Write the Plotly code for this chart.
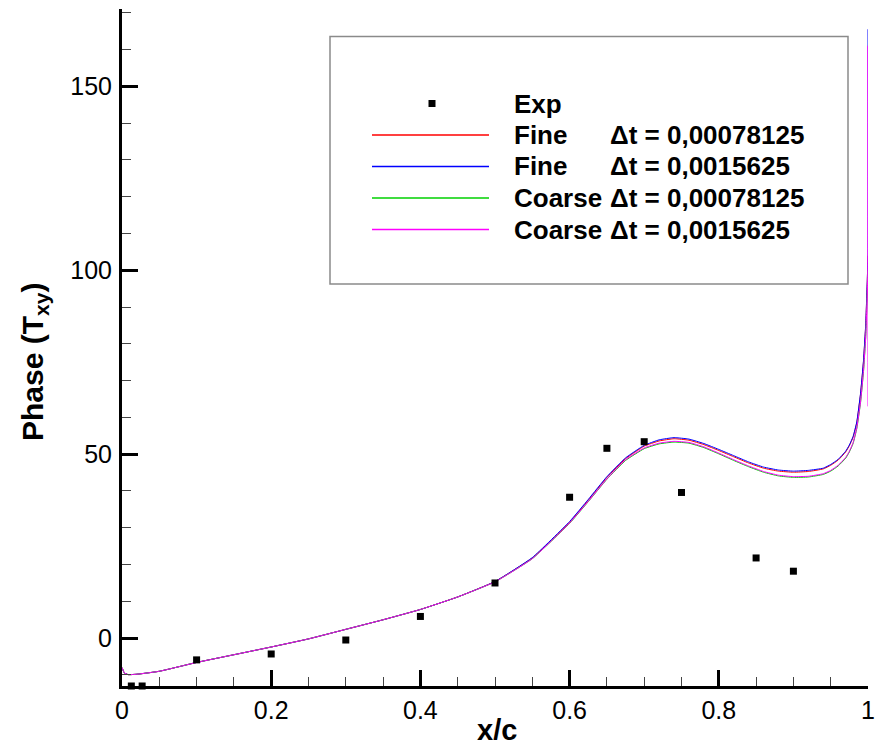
import plotly.graph_objects as go

# ---------------- data ----------------
exp_x = [0.0125, 0.027, 0.1, 0.2, 0.3, 0.4, 0.5, 0.6, 0.65, 0.7, 0.75, 0.85, 0.9]
exp_y = [-13.0, -13.0, -5.9, -4.3, -0.5, 5.9, 15.0, 38.3, 51.6, 53.4, 39.6, 21.8, 18.2]

x_sim = [0, 0.003, 0.008, 0.02, 0.05, 0.1, 0.15, 0.2, 0.25, 0.3, 0.35, 0.4, 0.45,
         0.5, 0.55, 0.6, 0.625, 0.65, 0.675, 0.7, 0.72, 0.74, 0.76, 0.78, 0.8,
         0.82, 0.84, 0.86, 0.88, 0.9, 0.92, 0.94, 0.95, 0.96, 0.97, 0.975, 0.98,
         0.985, 0.99, 0.994, 0.997, 0.999, 1.0]

fine_dt1 = [-8.0, -9.4, -9.9, -9.8, -9.0, -6.6, -4.5, -2.4, -0.2, 2.4, 5.0, 7.8, 11.2,
            15.4, 21.8, 31.5, 37.5, 43.7, 48.8, 52.2, 53.6, 54.2, 53.8, 52.6, 51.0,
            49.3, 47.6, 46.2, 45.4, 45.1, 45.3, 46.0, 47.0, 48.4, 50.6, 52.3, 54.6,
            58.6, 66.3, 75.3, 85.3, 96.8, 104.0]
fine_dt2 = [-8.0, -9.4, -9.9, -9.8, -9.0, -6.6, -4.5, -2.4, -0.2, 2.4, 5.0, 7.8, 11.2,
            15.4, 21.9, 31.7, 37.7, 43.9, 49.0, 52.4, 53.9, 54.5, 54.1, 52.9, 51.3,
            49.6, 47.9, 46.5, 45.7, 45.4, 45.6, 46.2, 47.2, 48.6, 50.8, 52.5, 54.8,
            58.8, 66.5, 75.5, 85.5, 97.0, 104.0]
coarse_dt1 = [-8.0, -9.4, -9.9, -9.8, -9.0, -6.6, -4.5, -2.4, -0.2, 2.4, 5.0, 7.8, 11.2,
              15.3, 21.6, 31.2, 37.1, 43.2, 48.3, 51.5, 52.8, 53.3, 53.0, 51.8, 50.1,
              48.3, 46.6, 45.1, 44.1, 43.7, 43.8, 44.5, 45.4, 46.8, 48.9, 50.6, 52.9,
              57.0, 64.0, 72.5, 82.0, 93.0, 100.0]
coarse_dt2 = [-8.0, -9.4, -9.9, -9.8, -9.0, -6.6, -4.5, -2.4, -0.2, 2.4, 5.0, 7.8, 11.2,
              15.3, 21.6, 31.3, 37.2, 43.3, 48.5, 51.7, 53.0, 53.5, 53.2, 52.0, 50.3,
              48.5, 46.8, 45.3, 44.3, 43.9, 44.0, 44.7, 45.6, 47.0, 49.1, 50.8, 53.1,
              57.2, 64.2, 72.8, 82.3, 93.5, 100.5]
# extra trailing-edge values (all at x/c = 1)
fine_dt2_tail = [165.5]
coarse_dt2_tail = [161.0, 63.0]

series_names = ["Fine", "Fine", "Coarse", "Coarse"]
series_dt = ["\u0394t = 0,00078125", "\u0394t = 0,0015625",
             "\u0394t = 0,00078125", "\u0394t = 0,0015625"]
series_colors = ["#ff0000", "#0000ff", "#00d000", "#ff00ff"]
series_y = [fine_dt1, fine_dt2 + fine_dt2_tail, coarse_dt1, coarse_dt2 + coarse_dt2_tail]

x_ticks = [0, 0.2, 0.4, 0.6, 0.8, 1.0]
x_ticktext = ["0", "0.2", "0.4", "0.6", "0.8", "1"]
y_ticks = [0, 50, 100, 150]
y_ticktext = ["0", "50", "100", "150"]

# ---------------- figure ----------------
W, H = 880, 747
L, R, T, B = 122, 868, 9, 686  # plot area in px
FONT = "Liberation Sans, Arial, Helvetica, sans-serif"


def px(xp):
    return (xp - L) / (R - L)


def py(yp):
    return (B - yp) / (B - T)


fig = go.Figure()
for name, ys, col in zip(series_names, series_y, series_colors):
    xs = x_sim + [1.0] * (len(ys) - len(x_sim))
    fig.add_trace(go.Scatter(x=xs, y=ys, mode="lines", name=name,
                             line=dict(color=col, width=1, shape="spline", smoothing=0.4),
                             showlegend=False, hoverinfo="skip"))

fig.add_trace(go.Scatter(x=exp_x, y=exp_y, mode="markers", name="Exp",
                         marker=dict(symbol="square", size=7, color="black"),
                         cliponaxis=False, showlegend=False))

axis_common = dict(showgrid=False, zeroline=False, showline=True, linewidth=3,
                   linecolor="black", ticks="inside", ticklen=16, tickwidth=3,
                   tickcolor="black", tickfont=dict(family=FONT, size=25, color="black"),
                   mirror=False, automargin=False)

fig.update_xaxes(range=[0, 1], tickvals=x_ticks, ticktext=x_ticktext,
                 minor=dict(ticks="inside", ticklen=9, tickwidth=1, tickcolor="#444",
                            dtick=0.05, tick0=0, showgrid=False),
                 ticklabelstandoff=0, **axis_common)
fig.update_yaxes(range=[-13, 171], tickvals=y_ticks, ticktext=y_ticktext,
                 minor=dict(ticks="inside", ticklen=9, tickwidth=1, tickcolor="#444",
                            dtick=10, tick0=0, showgrid=False),
                 ticklabelstandoff=2, **axis_common)

# ---------------- legend (drawn in the upper area) ----------------
shapes = [dict(type="rect", xref="paper", yref="paper",
               x0=px(330), x1=px(848), y0=py(284), y1=py(36.5),
               line=dict(color="#8a8a8a", width=1.5), fillcolor="white", layer="below")]
annotations = []
row_y = [103.5, 135, 166.5, 198, 229.5]
LEG_FS = 26

annotations.append(dict(xref="paper", yref="paper", x=px(512), y=py(row_y[0]),
                        text="<b>Exp</b>", showarrow=False, xanchor="left", yanchor="middle",
                        font=dict(family=FONT, size=LEG_FS, color="black")))
shapes.append(dict(type="rect", xref="paper", yref="paper",
                   x0=px(428.5), x1=px(435.5), y0=py(row_y[0] + 3.5), y1=py(row_y[0] - 3.5),
                   line=dict(width=0), fillcolor="black"))
for i, (name, dt, col) in enumerate(zip(series_names, series_dt, series_colors)):
    yy = row_y[i + 1]
    shapes.append(dict(type="line", xref="paper", yref="paper",
                       x0=px(372), x1=px(489), y0=py(yy), y1=py(yy),
                       line=dict(color=col, width=1.3)))
    annotations.append(dict(xref="paper", yref="paper", x=px(512), y=py(yy),
                            text="<b>%s</b>" % name, showarrow=False, xanchor="left",
                            yanchor="middle", font=dict(family=FONT, size=LEG_FS, color="black")))
    annotations.append(dict(xref="paper", yref="paper", x=px(608), y=py(yy),
                            text="<b>%s</b>" % dt, showarrow=False, xanchor="left",
                            yanchor="middle", font=dict(family=FONT, size=LEG_FS, color="black")))

# axis titles
annotations.append(dict(xref="paper", yref="paper", x=px(497), y=py(730),
                        text="<b>x/c</b>", showarrow=False, xanchor="center", yanchor="middle",
                        font=dict(family=FONT, size=29, color="black")))
annotations.append(dict(xref="paper", yref="paper", x=px(34), y=py(362),
                        text="<b>Phase (T<sub>xy</sub>)</b>", showarrow=False, textangle=-90,
                        xanchor="center", yanchor="middle",
                        font=dict(family=FONT, size=30, color="black")))

fig.update_layout(width=W, height=H, margin=dict(l=L, r=W - R, t=T, b=H - B),
                  paper_bgcolor="white", plot_bgcolor="white",
                  shapes=shapes, annotations=annotations, showlegend=False)

fig.write_html("out.html")
